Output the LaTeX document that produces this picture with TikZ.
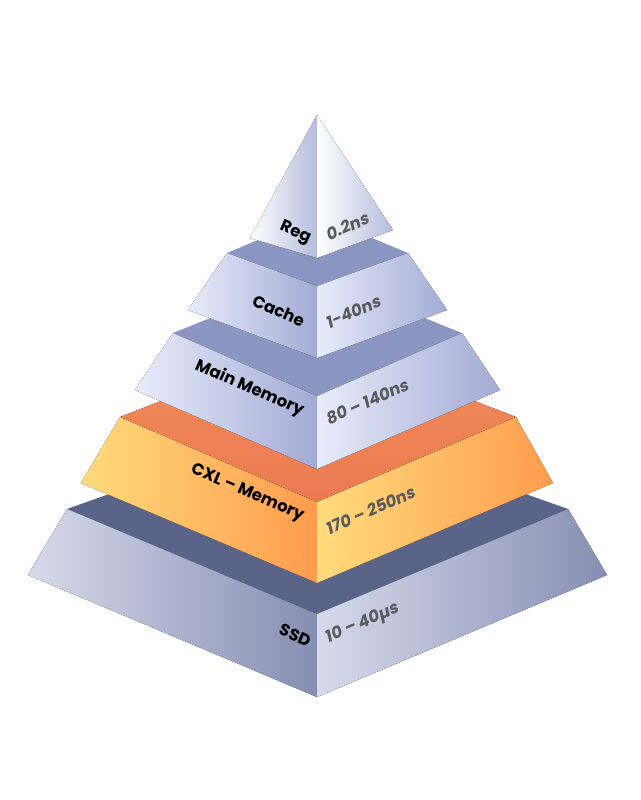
\documentclass[tikz,border=0pt]{standalone}
\usepackage{fontspec}
\setmainfont{Poppins}
\newfontfamily\numfont[FakeSlant=0.18]{Poppins}
\usepackage{xcolor}
\usetikzlibrary{positioning}

\definecolor{lavlight}{HTML}{E8ECFC}
\definecolor{lavdark}{HTML}{A3ABD4}
\definecolor{lavtop}{HTML}{8C96C2}
\definecolor{cxlyel}{HTML}{FFDB7C}
\definecolor{cxlorg}{HTML}{FF9C4C}
\definecolor{cxltop}{HTML}{EC7A52}
\definecolor{ssdlight}{HTML}{D6DAEB}
\definecolor{ssddark}{HTML}{868EB2}
\definecolor{ssdtop}{HTML}{5A6488}
\definecolor{numgray}{HTML}{5A5A5A}

\tikzset{
  tierlabel/.style={font=\fontsize{16.5}{18}\selectfont\bfseries, text=black, inner sep=1pt, rotate=-23.5},
  latlabel/.style={font=\numfont\fontsize{16.5}{18}\selectfont\bfseries, text=numgray, inner sep=1pt, rotate=23.5}
}

\begin{document}
\begin{tikzpicture}[x=1pt,y=-1pt]
      \useasboundingbox (0,0) rectangle (640,800);

      % SSD tier
      \fill[ssdtop] (67,509) -- (317,420) -- (568,509) -- (317,614) -- cycle;
      \fill[left color=ssdlight, right color=ssddark] (67,509) -- (317,614) -- (317,697) -- (28,575) -- cycle;
      \fill[left color=ssdlight, right color=ssddark] (317,614) -- (568,509) -- (607,575) -- (317,697) -- cycle;

      % CXL tier
      \fill[top color=cxltop!80!cxlyel, bottom color=cxltop] (120,417) -- (317,340) -- (516,417) -- (317,502) -- cycle;
      \fill[left color=cxlyel, right color=cxlorg] (120,417) -- (317,502) -- (317,583) -- (81,483) -- cycle;
      \fill[left color=cxlyel, right color=cxlorg] (317,502) -- (516,417) -- (553,483) -- (317,583) -- cycle;

      % Main memory tier
      \fill[lavtop] (173,333) -- (317,275) -- (462,333) -- (317,396) -- cycle;
      \fill[left color=lavlight, right color=lavdark] (173,333) -- (317,396) -- (317,469) -- (135,390) -- cycle;
      \fill[left color=lavlight, right color=lavdark] (317,396) -- (462,333) -- (500,390) -- (317,469) -- cycle;

      % Cache tier
      \fill[lavtop] (227,253) -- (317,215) -- (408,253) -- (317,286) -- cycle;
      \fill[left color=lavlight, right color=lavdark] (227,253) -- (317,286) -- (317,358) -- (188,310) -- cycle;
      \fill[left color=lavlight, right color=lavdark] (317,286) -- (408,253) -- (447,310) -- (317,358) -- cycle;

      % Register tip
      \fill[left color=white, right color=lavdark!80] (317,115) -- (317,258) -- (250,238) -- cycle;
      \fill[left color=white, right color=lavdark!80] (317,115) -- (393,230) -- (317,258) -- cycle;

      % Labels
      \node[tierlabel, anchor=east] (reg) at (311,240) {Reg};
      \node[latlabel, anchor=west] (regt) at (325,236) {0.2ns};
      \node[tierlabel, anchor=east] (cache) at (305,322) {Cache};
      \node[latlabel, anchor=west] (cachet) at (325,324) {1-40ns};
      \node[tierlabel, anchor=east] (main) at (304,412) {Main Memory};
      \node[latlabel, anchor=west] (maint) at (325,420) {80 – 140ns};
      \node[tierlabel, anchor=east] (cxl) at (304,518) {CXL – Memory};
      \node[latlabel, anchor=west] (cxlt) at (325,530) {170 – 250ns};
      \node[tierlabel, anchor=east] (ssd) at (311,642) {SSD};
      \node[latlabel, anchor=west] (ssdt) at (325,640) {10 – 40µs};

\end{tikzpicture}
\end{document}
